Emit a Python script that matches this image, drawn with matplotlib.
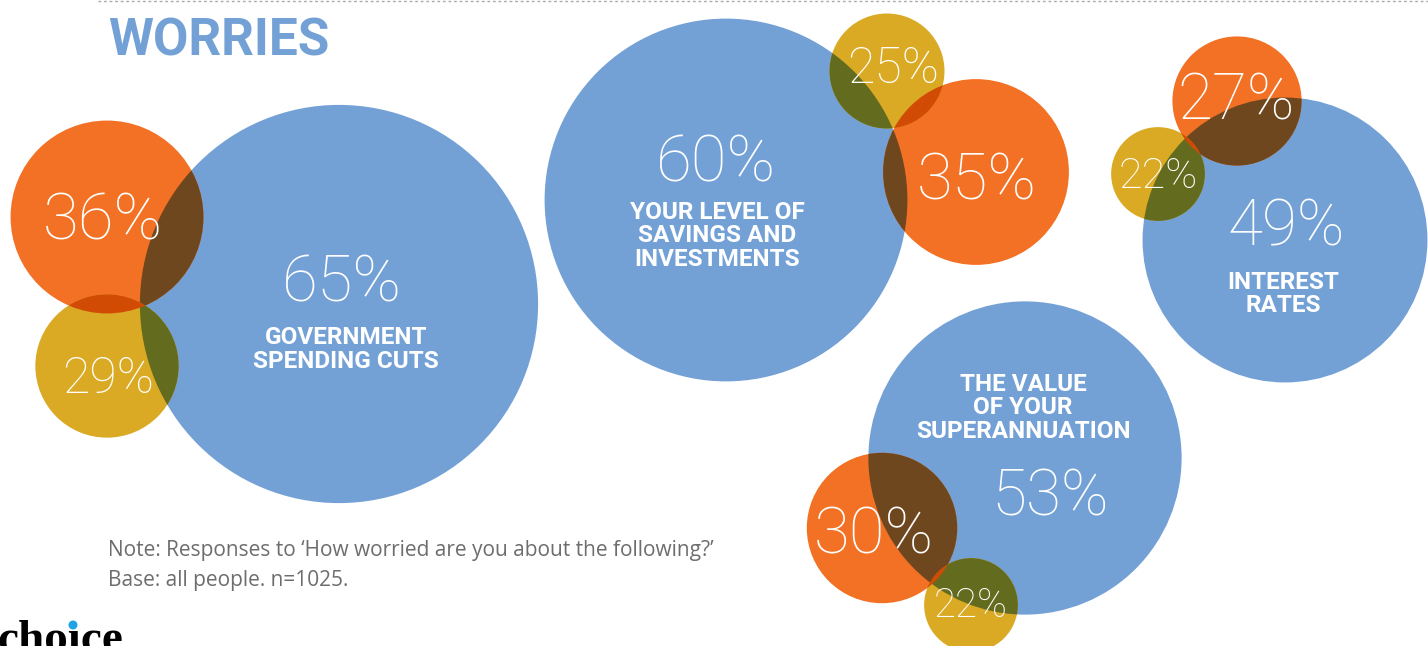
import matplotlib.pyplot as plt
from matplotlib.patches import Circle
from matplotlib.colors import to_rgb
import numpy as np

# survey results, one entry per worry
topics = ["GOVERNMENT\nSPENDING CUTS",
          "YOUR LEVEL OF\nSAVINGS AND\nINVESTMENTS",
          "INTEREST\nRATES",
          "THE VALUE\nOF YOUR\nSUPERANNUATION"]
blue_vals = [65, 60, 49, 53]
orange_vals = [36, 35, 27, 30]
gold_vals = [29, 25, 22, 22]

title = "WORRIES"
note_lines = ["Note: Responses to \u2018How worried are you about the following?\u2019",
              "Base: all people. n=1025."]

BLUE = "#73A1D6"
ORANGE = "#F37124"
GOLD = "#DBAA24"

# layout in pixel coords (y grows downwards)
blue_xy = [(339, 304), (726, 200), (1285, 240), (1025, 458)]
orange_xy = [(107, 217), (976, 172), (1237, 101), (882, 528)]
gold_xy = [(107, 366), (887, 71), (1158, 174), (971, 605)]

# where the numbers sit: (x centre, baseline, font size)
blue_lbl = [(342, 302, 47), (716, 182, 47), (1286, 246, 46), (1050, 515, 46)]
orange_lbl = [(103, 240, 47), (977, 200, 47), (1236, 119, 46), (874, 553, 47)]
gold_lbl = [(108, 393, 36), (893, 83, 36), (1158, 188, 31), (971, 617, 29)]
# topic text: (x centre, first baseline)
topic_pos = [(346, 344), (717, 219), (1283, 289), (1023, 391)]


def radius(v):
    # linear size scale for the bubbles
    return 3.54 * v - 31


def multiply(c1, c2):
    a = np.array(to_rgb(c1))
    b = np.array(to_rgb(c2))
    return tuple(a * b)


fig = plt.figure(figsize=(14.28, 6.46), dpi=100)
ax = fig.add_axes([0, 0, 1, 1])
ax.set_xlim(0, 1428)
ax.set_ylim(646, 0)
ax.axis("off")

circles = []
for i in range(4):
    circles.append((blue_xy[i], radius(blue_vals[i]), BLUE))
    circles.append((orange_xy[i], radius(orange_vals[i]), ORANGE))
    circles.append((gold_xy[i], radius(gold_vals[i]), GOLD))

for xy, r, c in circles:
    ax.add_patch(Circle(xy, r, facecolor=c, edgecolor="none", zorder=1))

# overlaps drawn as multiply blends
for a in range(len(circles)):
    for b in range(a + 1, len(circles)):
        (xa, ya), ra, ca = circles[a]
        (xb, yb), rb, cb = circles[b]
        if np.hypot(xa - xb, ya - yb) < ra + rb:
            clip = Circle((xb, yb), rb, transform=ax.transData)
            p = Circle((xa, ya), ra, facecolor=multiply(ca, cb),
                       edgecolor="none", zorder=2)
            ax.add_patch(p)
            p.set_clip_path(clip)

light = dict(color="white", ha="center", va="baseline",
             family="Roboto", fontweight="light", zorder=5)
for vals, lbls in [(blue_vals, blue_lbl), (orange_vals, orange_lbl),
                   (gold_vals, gold_lbl)]:
    for v, (x, y, fs) in zip(vals, lbls):
        ax.text(x, y, f"{v}%", fontsize=fs, **light)

for t, (x, y) in zip(topics, topic_pos):
    for k, line in enumerate(t.split("\n")):
        ax.text(x, y + k * 23.5, line, color="white", ha="center",
                va="baseline", family="Roboto", fontweight="bold",
                fontsize=17.5, zorder=5)

ax.text(108, 55, title, color=BLUE, family="Roboto", fontweight="bold",
        fontsize=37, ha="left", va="baseline")

for k, line in enumerate(note_lines):
    ax.text(108, 556 + k * 30, line, color="#6d6d6d", family="Open Sans",
            fontsize=15, ha="left", va="baseline")

# dotted rule along the top
ax.plot([98, 1428], [1, 1], color="#aaaaaa", linestyle=(0, (2, 2)), lw=1)

# logo at the bottom, cut by the edge
ax.text(-3, 652, "cho\u0131ce", color="black", family="Liberation Serif",
        fontweight="bold", fontsize=34, ha="left", va="baseline")
ax.add_patch(Circle((73, 625), 4.5, facecolor="#1ea4e6", edgecolor="none"))

fig.savefig("out.png", dpi=100)
